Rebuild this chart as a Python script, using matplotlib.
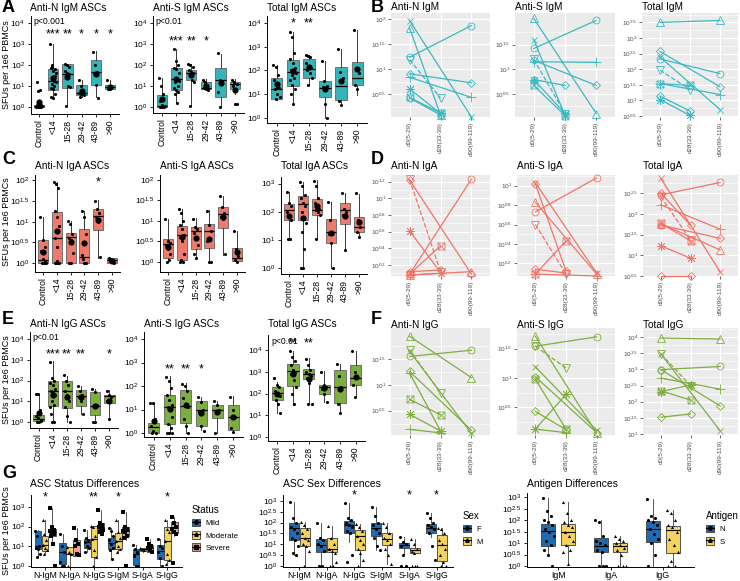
import numpy as np
import matplotlib
matplotlib.use("Agg")
import matplotlib.pyplot as plt
from matplotlib.path import Path
from matplotlib.patches import Patch
from matplotlib.lines import Line2D

plt.rcParams['font.family'] = ['Liberation Sans', 'DejaVu Sans']
plt.rcParams['mathtext.default'] = 'regular'

# ------------------------------------------------------------------ data
age_groups = ["Control", "<14", "15-28", "29-42", "43-89", ">90"]
timepoints = ["d0(5-29)", "d28(33-39)", "d90(99-119)"]

# box stats in log10 units: (whisker low, q1, median, q3, whisker high)
antiN_IgM_box = [(0.0, 0.02, 0.06, 0.12, 0.3), (0.48, 0.83, 1.24, 1.83, 3.0), (0.08, 0.92, 1.59, 2.06, 2.06),
                 (0.48, 0.56, 0.68, 1.03, 1.27), (0.48, 1.03, 1.67, 2.22, 2.67), (0.83, 0.87, 0.95, 1.06, 1.3)]
antiN_IgM_pts = [[0.0, 0.0, 0.02, 0.05, 0.08, 0.1, 0.12, 0.0, 0.05, 0.75, 0.8, 1.18, 0.3, 0.0],
                 [3.0, 2.0, 1.8, 1.85, 1.7, 1.5, 1.35, 1.25, 1.2, 1.1, 1.0, 0.9, 0.85, 0.6, 0.5, 0.45, 1.6, 1.9],
                 [2.05, 2.0, 1.9, 1.7, 1.6, 1.55, 1.4, 1.0, 0.95, 0.05],
                 [1.28, 1.0, 0.7, 0.65, 0.6, 0.55, 0.5],
                 [2.6, 2.0, 1.65, 1.6, 1.05, 0.45],
                 [1.3, 0.95, 0.9, 0.85, 0.85]]
antiN_IgM_stars = ["", "***", "**", "*", "*", "*"]

antiS_IgM_box = [(0.0, 0.0, 0.05, 0.55, 1.4), (0.19, 0.79, 1.32, 1.83, 2.78), (0.03, 1.3, 1.62, 1.78, 2.06),
                 (0.8, 0.83, 0.92, 1.19, 1.32), (0.03, 0.48, 1.27, 1.83, 2.54), (0.63, 0.87, 1.08, 1.19, 1.32)]
antiS_IgM_pts = [[1.4, 1.0, 0.6, 0.3, 0.1, 0.0, 0.0, 0.0, 0.05],
                 [2.75, 2.2, 2.0, 1.85, 1.8, 1.6, 1.4, 1.3, 1.25, 1.2, 1.0, 0.9, 0.8, 0.7, 0.6, 0.2],
                 [2.05, 2.0, 1.9, 1.75, 1.65, 1.6, 1.5, 1.3, 1.2, 0.05],
                 [1.3, 1.2, 0.95, 0.9, 0.85, 0.8],
                 [2.55, 1.3, 1.2, 0.7, 0.0],
                 [1.3, 1.2, 1.1, 1.0, 0.15, 0.15]]
antiS_IgM_stars = ["", "***", "**", "*", "", ""]

total_IgM_box = [(0.75, 0.78, 1.2, 1.7, 2.25), (0.6, 1.35, 1.93, 2.45, 3.62), (1.4, 1.68, 2.05, 2.5, 2.65),
                 (0.0, 0.9, 1.28, 1.55, 2.4), (0.55, 0.75, 1.35, 2.15, 2.9), (0.95, 1.4, 1.68, 2.35, 3.7)]
total_IgM_pts = [[2.25, 2.15, 1.8, 1.6, 1.3, 1.25, 1.2, 1.0, 0.9, 0.78],
                 [3.62, 3.4, 2.75, 2.5, 2.3, 2.1, 2.0, 1.95, 1.9, 1.8, 1.7, 1.6, 1.4, 1.2, 1.0, 0.6],
                 [2.65, 2.6, 2.55, 2.3, 2.2, 2.1, 2.0, 1.9, 1.7, 1.4],
                 [2.4, 1.55, 1.35, 1.3, 0.6, 0.0],
                 [2.9, 1.95, 1.7, 0.7, 0.55],
                 [3.7, 2.1, 1.9, 1.4, 1.2]]
total_IgM_stars = ["", "*", "**", "", "", ""]

antiN_IgA_box = [(0.0, 0.0, 0.08, 0.56, 1.12), (0.0, 0.0, 0.6, 1.24, 1.94), (0.0, 0.0, 0.62, 0.72, 1.02),
                 (0.0, 0.0, 0.14, 0.82, 1.26), (0.12, 0.8, 1.14, 1.3, 1.52), (0.0, 0.0, 0.08, 0.12, 0.12)]
antiN_IgA_pts = [[1.12, 0.55, 0.4, 0.3, 0.1, 0.05, 0.0, 0.0, 0.0],
                 [1.95, 1.9, 1.8, 1.25, 1.1, 0.9, 0.6, 0.4, 0.0, 0.0, 0.0, 0.0, 0.05],
                 [1.02, 0.95, 0.7, 0.6, 0.55, 0.25, 0.0, 0.0],
                 [1.25, 1.1, 0.7, 0.2, 0.0, 0.0, 0.1],
                 [1.5, 1.3, 1.2, 1.1, 1.0, 0.15],
                 [0.12, 0.1, 0.08, 0.05, 0.02, 0.0]]
antiN_IgA_stars = ["", "", "", "", "*", ""]

antiS_IgA_box = [(0.0, 0.08, 0.44, 0.56, 1.04), (0.0, 0.04, 0.66, 0.88, 1.3), (0.1, 0.32, 0.76, 0.84, 1.08),
                 (0.0, 0.34, 0.76, 0.92, 1.26), (0.16, 0.82, 1.16, 1.34, 1.6), (0.0, 0.02, 0.1, 0.34, 0.76)]
antiS_IgA_pts = [[1.04, 0.5, 0.45, 0.4, 0.3, 0.2, 0.0, 0.05],
                 [1.28, 1.2, 1.0, 0.9, 0.8, 0.65, 0.6, 0.5, 0.2, 0.05, 0.0, 0.0],
                 [1.05, 0.85, 0.8, 0.7, 0.6, 0.4, 0.2, 0.1],
                 [1.25, 0.9, 0.75, 0.5, 0.0, 0.0],
                 [1.6, 1.35, 1.2, 1.1, 1.05, 0.2],
                 [0.75, 0.3, 0.15, 0.05, 0.0]]
antiS_IgA_stars = ["", "", "", "", "", ""]

total_IgA_box = [(1.06, 1.71, 2.08, 2.27, 2.7), (0.03, 1.71, 2.27, 2.56, 3.04), (1.06, 1.88, 2.08, 2.44, 3.12),
                 (0.0, 0.88, 1.29, 1.73, 2.35), (0.65, 1.56, 2.06, 2.32, 2.67), (1.06, 1.29, 1.47, 1.82, 2.64)]
total_IgA_pts = [[2.7, 2.3, 2.2, 2.0, 1.9, 1.7, 1.05, 1.05],
                 [3.05, 2.9, 2.6, 2.5, 2.3, 2.2, 2.0, 1.8, 1.6, 1.3, 0.7, 0.0, 0.0],
                 [3.1, 2.9, 2.5, 2.3, 2.2, 2.1, 2.05, 2.0, 1.9, 1.05],
                 [2.35, 1.7, 1.3, 1.2, 0.9, 0.0],
                 [2.65, 2.1, 2.0, 1.9, 0.65],
                 [2.65, 1.7, 1.45, 1.3, 1.1]]
total_IgA_stars = ["", "", "", "", "", ""]

antiN_IgG_box = [(0.0, 0.05, 0.16, 0.32, 1.37), (0.0, 0.76, 1.5, 1.98, 2.92), (0.0, 0.69, 1.5, 1.97, 2.24),
                 (0.4, 0.76, 1.24, 1.53, 1.73), (0.0, 0.32, 0.76, 1.45, 1.61), (0.16, 0.92, 1.24, 1.32, 1.53)]
antiN_IgG_pts = [[1.35, 1.35, 0.6, 0.3, 0.2, 0.05, 0.0, 0.0, 0.1],
                 [2.9, 2.1, 2.0, 1.9, 1.8, 1.6, 1.5, 1.4, 1.3, 1.0, 0.8, 0.7, 0.0, 0.0, 0.4],
                 [2.25, 2.0, 1.8, 1.5, 1.3, 1.0, 0.7, 0.3, 0.0],
                 [1.72, 1.5, 1.3, 1.2, 1.0, 0.4],
                 [1.6, 1.45, 0.8, 0.0, 0.0],
                 [1.5, 1.3, 1.2, 1.0, 0.15]]
antiN_IgG_stars = ["", "***", "**", "**", "", "*"]

antiS_IgG_box = [(0.0, 0.0, 0.26, 0.43, 1.28), (0.0, 0.37, 1.11, 1.61, 2.43), (0.0, 0.43, 1.14, 1.83, 2.14),
                 (0.11, 0.3, 0.97, 1.36, 1.54), (0.0, 0.66, 1.0, 1.21, 1.36), (0.05, 0.11, 0.69, 1.19, 1.57)]
antiS_IgG_pts = [[1.28, 1.28, 0.6, 0.3, 0.1, 0.0, 0.0],
                 [2.4, 2.2, 1.9, 1.6, 1.4, 1.2, 1.1, 1.0, 0.7, 0.4, 0.2, 0.0, 0.0, 0.0],
                 [2.1, 2.0, 1.8, 1.5, 1.2, 1.1, 0.6, 0.3, 0.0],
                 [1.55, 1.3, 1.0, 0.9, 0.3, 0.1],
                 [1.35, 1.2, 1.0, 0.0],
                 [1.55, 1.0, 0.7, 0.2, 0.05]]
antiS_IgG_stars = ["", "**", "**", "*", "", ""]

total_IgG_box = [(1.11, 1.69, 2.03, 2.31, 2.54), (1.46, 2.35, 3.03, 3.35, 3.97), (1.57, 2.65, 2.89, 3.15, 3.62),
                 (1.62, 2.0, 2.28, 2.38, 3.03), (1.15, 1.57, 2.32, 3.08, 3.38), (1.85, 2.38, 2.72, 3.31, 3.95)]
total_IgG_pts = [[2.7, 2.4, 2.3, 2.1, 2.0, 1.9, 1.7, 1.5, 1.1],
                 [3.95, 3.7, 3.5, 3.3, 3.1, 3.0, 2.9, 2.6, 2.3, 2.0, 1.5],
                 [3.6, 3.3, 3.1, 3.0, 2.9, 2.8, 2.7, 2.5, 1.5, 1.5],
                 [3.0, 2.4, 2.3, 2.2, 2.0, 1.6],
                 [3.35, 2.8, 2.3, 1.5, 1.1],
                 [3.95, 3.0, 2.7, 2.4, 1.85]]
total_IgG_stars = ["", "**", "**", "", "", ""]

# longitudinal subjects: (shape, [d0, d28, d90]) in log10 units
b_antiN_IgM = [("x", [1.97, None, 0.05]), ("triangle", [1.82, 0.09, None]), ("circle", [1.24, None, 1.87]),
               ("invtri", [1.19, 0.43, None]), ("diamond", [0.91, None, 0.73]), ("plus", [0.84, None, 0.44]),
               ("asterisk", [0.61, 0.12, None]), ("sqcross", [0.44, 0.13, None]), ("circle", [0.43, 0.09, None])]
b_antiS_IgM = [("triangle", [2.03, None, 0.1]), ("x", [1.6, 0.06, None]), ("circle", [1.42, None, 1.99]),
               ("plus", [1.15, None, 1.14]), ("diamond", [1.18, None, 0.67]), ("invtri", [1.2, 0.1, None]),
               ("diamond", [0.79, 0.67, None]), ("sqcross", [0.67, 0.06, None]), ("asterisk", [0.79, 0.1, None])]
b_total_IgM = [("triangle", [3.5, None, 3.56]), ("diamond", [2.57, None, 1.44]), ("circle", [2.33, None, 1.86]),
               ("x", [2.39, None, 0.71]), ("invtri", [1.97, 1.35, None]), ("sqcross", [1.54, 1.48, None]),
               ("plus", [1.54, None, 1.19]), ("diamond", [1.14, 0.66, None]), ("asterisk", [1.03, 0.52, None])]

d_antiN_IgA = [("invtri", [1.23, 0.12, None]), ("diamond", [1.22, None, 0.09]), ("circle", [0.09, None, 1.23]),
               ("asterisk", [0.61, 0.11, None]), ("sqcross", [0.09, 0.43, None]), ("diamond", [0.12, 0.14, None]),
               ("triangle", [0.08, None, 0.12]), ("plus", [0.08, 0.1, None])]
d_antiS_IgA = [("diamond", [1.02, 0.12, None]), ("x", [1.03, None, 0.1]), ("triangle", [0.83, None, 0.09]),
               ("circle", [0.73, None, 1.08]), ("invtri", [0.6, 0.09, None]), ("sqcross", [0.09, 0.43, None]),
               ("diamond", [0.14, 0.1, None]), ("plus", [0.09, None, 0.07])]
d_total_IgA = [("x", [2.86, None, 0.6]), ("diamond", [2.5, 1.73, None]), ("circle", [2.46, None, 2.76]),
               ("invtri", [2.42, 1.37, None]), ("plus", [2.22, None, 1.63]), ("sqcross", [1.77, 1.35, None]),
               ("diamond", [1.73, None, 1.41]), ("triangle", [1.76, None, 1.13]), ("asterisk", [1.23, 0.93, None]),
               ("diamond", [0.5, 0.5, None])]

f_antiN_IgG = [("triangle", [1.94, None, 1.14]), ("invtri", [1.68, 0.84, None]), ("circle", [1.55, None, 1.67]),
               ("x", [1.65, None, 0.06]), ("diamond", [1.26, None, 0.12]), ("plus", [1.23, 0.11, None]),
               ("sqcross", [0.72, 0.42, None]), ("asterisk", [0.43, 0.11, None]), ("plus", [0.14, 0.07, None])]
f_antiS_IgG = [("triangle", [1.71, None, 0.06]), ("circle", [1.54, None, 1.7]), ("invtri", [1.54, 1.17, None]),
               ("x", [1.19, None, 0.11]), ("sqcross", [0.98, 0.13, None]), ("diamond", [1.02, None, 0.07]),
               ("diamond", [0.43, 0.12, None]), ("asterisk", [0.13, 0.72, None]), ("plus", [0.13, 0.07, None])]
f_total_IgG = [("triangle", [3.97, None, 3.94]), ("x", [3.48, None, 1.1]), ("invtri", [3.48, 2.5, None]),
               ("circle", [2.99, None, 3.09]), ("plus", [2.73, None, 2.39]), ("diamond", [2.99, None, 1.87]),
               ("sqcross", [2.34, 2.05, None]), ("asterisk", [2.31, 2.52, None]), ("diamond", [1.52, 1.62, None])]

# panel G
assay_cats = ["N-IgM", "N-IgA", "N-IgG", "S-IgM", "S-IgA", "S-IgG"]
status_labels = ["Mild", "Moderate", "Severe"]
status_mild_box = [(0.45, 0.85, 1.0, 1.8, 1.85), (0.0, 0.11, 0.72, 1.15, 1.64), (0.7, 0.93, 1.21, 1.38, 1.84),
                   (0.36, 0.85, 1.15, 1.43, 1.92), (0.0, 0.03, 0.6, 0.85, 1.05), (0.0, 0.36, 0.77, 1.05, 1.35)]
status_moderate_box = [(0.6, 0.77, 1.05, 1.54, 2.33), (0.0, 0.6, 0.6, 0.98, 0.98), (0.0, 0.44, 1.38, 2.03, 2.03),
                       (0.69, 0.85, 1.26, 1.67, 2.33), (0.69, 0.78, 0.85, 0.93, 0.93), (0.1, 0.33, 1.26, 1.97, 2.33)]
status_severe_box = [(1.05, 1.5, 1.7, 1.87, 2.95), (0.52, 0.52, 1.05, 1.34, 1.92), (1.59, 1.84, 1.97, 2.16, 2.82),
                     (1.34, 1.5, 1.8, 1.97, 2.74), (0.69, 0.69, 0.93, 1.05, 1.38), (1.5, 1.67, 1.97, 2.25, 2.46)]
status_mild_pts = [[1.8, 1.5, 1.0, 0.9, 0.85, 0.6, 0.45], [1.64, 1.0, 0.72, 0.2, 0.0, 0.0],
                   [1.84, 1.4, 1.3, 1.2, 1.0, 0.9, 0.7], [1.92, 1.8, 1.5, 1.3, 1.1, 0.9, 0.8, 0.36],
                   [1.05, 0.85, 0.7, 0.5, 0.0, 0.0], [1.35, 1.0, 0.9, 0.7, 0.4, 0.0]]
status_moderate_pts = [[2.33, 1.6, 1.3, 1.05, 0.9, 0.8, 0.6], [0.98, 0.7, 0.6, 0.0],
                       [2.03, 2.0, 1.5, 1.38, 0.8, 0.44, 0.0], [2.33, 1.7, 1.4, 1.26, 1.0, 0.85, 0.69],
                       [0.93, 0.85, 0.8], [2.33, 1.9, 1.7, 1.26, 0.6, 0.33, 0.1]]
status_severe_pts = [[2.95, 2.0, 1.85, 1.75, 1.7, 1.6, 1.5, 1.1, 0.0], [1.92, 1.3, 1.1, 1.0, 0.6, 0.55],
                     [2.82, 2.2, 2.1, 2.0, 1.95, 1.85, 1.7, 1.6], [2.74, 2.0, 1.9, 1.8, 1.7, 1.5, 1.4, 0.0],
                     [1.38, 1.1, 1.0, 0.9, 0.8, 0.7], [2.46, 2.2, 2.0, 1.9, 1.7, 1.6, 0.15]]
status_stars = ["*", "", "**", "*", "", "*"]

sex_labels = ["F", "M"]
sex_F_box = [(0.49, 1.18, 1.73, 2.0, 2.95), (0.0, 0.64, 0.99, 1.26, 2.0), (1.1, 1.52, 1.88, 2.07, 2.88),
             (0.75, 1.37, 1.73, 2.0, 2.73), (0.5, 0.84, 0.99, 1.08, 1.33), (1.35, 1.52, 1.73, 1.92, 2.44)]
sex_M_box = [(0.0, 0.93, 1.29, 1.77, 2.02), (0.0, 0.64, 0.78, 1.29, 1.82), (0.0, 0.74, 1.37, 1.67, 1.92),
             (0.1, 0.99, 1.23, 1.52, 2.0), (0.59, 0.59, 0.74, 0.84, 1.26), (0.0, 0.22, 0.99, 1.43, 1.77)]
sex_F_pts = [[2.95, 2.2, 2.0, 1.8, 1.7, 1.5, 1.3, 1.2, 0.9, 0.6, 0.49], [2.0, 1.3, 1.2, 1.0, 0.9, 0.7, 0.0, 0.0],
             [2.88, 2.2, 2.1, 2.0, 1.9, 1.8, 1.6, 1.5, 0.5, 0.2], [2.73, 2.3, 2.0, 1.9, 1.7, 1.5, 1.3, 0.9, 0.75],
             [1.33, 1.1, 1.0, 0.9, 0.5, 0.0, 0.0], [2.44, 2.2, 2.0, 1.9, 1.8, 1.7, 1.5, 0.9, 0.3]]
sex_M_pts = [[2.02, 1.9, 1.7, 1.5, 1.3, 1.2, 1.0, 0.93, 0.7, 0.0], [1.82, 1.3, 1.0, 0.8, 0.7, 0.6, 0.0, 0.0, 0.2],
             [1.92, 1.8, 1.6, 1.4, 1.2, 1.0, 0.8, 0.6, 0.3, 0.0], [2.0, 1.8, 1.5, 1.3, 1.2, 1.0, 0.8, 0.5, 0.1],
             [1.26, 1.0, 0.8, 0.7, 0.6, 0.0, 0.0, 0.0], [1.77, 1.7, 1.5, 1.2, 1.0, 0.8, 0.5, 0.2, 0.0, 0.0]]
sex_stars = ["", "", "*", "", "*", "*"]

isotype_cats = ["IgM", "IgA", "IgG"]
antigen_labels = ["N", "S"]
antigen_N_box = [(0.49, 0.89, 1.53, 1.81, 2.96), (0.0, 0.6, 0.89, 1.24, 2.0), (0.0, 1.06, 1.63, 1.96, 2.91)]
antigen_S_box = [(0.1, 0.91, 1.49, 1.81, 2.77), (0.0, 0.63, 0.86, 1.0, 1.31), (0.0, 0.57, 1.57, 1.74, 2.46)]
antigen_N_pts = [[2.96, 2.4, 2.2, 2.0, 1.9, 1.8, 1.6, 1.5, 1.3, 1.1, 0.9, 0.7, 0.5, 0.0],
                 [2.0, 1.9, 1.3, 1.1, 1.0, 0.9, 0.7, 0.6, 0.0, 0.0, 0.0],
                 [2.91, 2.2, 2.1, 2.0, 1.9, 1.8, 1.6, 1.4, 1.2, 1.0, 0.5, 0.0]]
antigen_S_pts = [[2.77, 2.3, 2.0, 1.9, 1.8, 1.7, 1.5, 1.3, 1.1, 0.9, 0.7, 0.6, 0.1],
                 [1.31, 1.2, 1.1, 1.0, 0.9, 0.8, 0.7, 0.5, 0.0, 0.0, 0.0],
                 [2.46, 2.3, 2.0, 1.8, 1.7, 1.5, 1.2, 0.9, 0.6, 0.2, 0.0, 0.0]]

# ------------------------------------------------------------------ style
TEAL, SALMON, GREEN = "#35B5BA", "#EF7A69", "#7DAF3F"
LTEAL, LSALMON, LGREEN = "#3CB8C0", "#F07467", "#7DAE3F"
BLUE, YELLOW, PINK = "#1F6BB3", "#F3D35E", "#EBA29C"

W, H = 740, 581
fig = plt.figure(figsize=(7.4, 5.81), dpi=100)


def add_ax(l, t, r, b):
    return fig.add_axes([l / W, 1 - b / H, (r - l) / W, (b - t) / H])


def log_labels(ticks):
    return [f"$10^{{{t:g}}}$" for t in ticks]


def ftext(x, y, s, **kw):
    return fig.text(x / W, 1 - y / H, s, **kw)


def classic(ax):
    for sp in ("top", "right"):
        ax.spines[sp].set_visible(False)
    for sp in ("left", "bottom"):
        ax.spines[sp].set_linewidth(0.7)
    ax.tick_params(length=2.5, width=0.6, labelsize=6.0, pad=1.5, colors="black")


def jitter(n, w):
    return ((np.arange(n) * 0.37) % 1 - 0.5) * 2 * w


def box_panel(rect, title, title_y, boxes, pts, stars, star_y, color, ylim, ticks, ptext=None):
    ax = add_ax(*rect)
    pos = np.arange(1, len(boxes) + 1)
    stats = [dict(whislo=b[0], q1=b[1], med=b[2], q3=b[3], whishi=b[4], fliers=[]) for b in boxes]
    ax.bxp(stats, positions=pos, widths=0.72, patch_artist=True, showcaps=False, showfliers=False,
           boxprops=dict(facecolor=color, edgecolor="#707070", linewidth=0.7),
           whiskerprops=dict(color="#3a3a3a", linewidth=0.7),
           medianprops=dict(color="black", linewidth=0.9))
    for x, p in zip(pos, pts):
        p = np.asarray(p)
        ax.scatter(x + jitter(len(p), 0.2), p, s=5, color="black", zorder=3, linewidths=0)
        ax.scatter([x], [p.mean()], s=20, color="black", zorder=4, linewidths=0)
    for x, s in zip(pos, stars):
        if s:
            ax.text(x, star_y, s, ha="center", va="center", fontsize=9, clip_on=False)
    ax.set_xlim(0.4, len(boxes) + 0.6)
    ax.set_ylim(*ylim)
    ax.set_yticks(ticks)
    ax.set_yticklabels(log_labels(ticks))
    ax.set_xticks(pos)
    ax.set_xticklabels(age_groups, rotation=90)
    classic(ax)
    ax.tick_params(axis="x", labelsize=6.2)
    if ptext:
        ax.text(0.03, 0.985, ptext, transform=ax.transAxes, ha="left", va="top", fontsize=6.2)
    ftext(rect[0], title_y, title, ha="left", va="center", fontsize=7.3)
    return ax


MSQX = Path([(-1, -1), (1, -1), (1, 1), (-1, 1), (-1, -1), (-1, -1), (1, 1), (-1, 1), (1, -1)],
            [1, 2, 2, 2, 2, 1, 2, 1, 2])
MARKERS = {"circle": ("o", 5), "triangle": ("^", 5.5), "plus": ("+", 6.5), "x": ("x", 5),
           "diamond": ("D", 4.5), "invtri": ("v", 5.5), "sqcross": (MSQX, 5), "asterisk": ((8, 2, 0), 6.5)}


def line_panel(rect, title, title_y, subjects, color, ylim, ticks):
    ax = add_ax(*rect)
    ax.set_facecolor("#EBEBEB")
    for sp in ax.spines.values():
        sp.set_visible(False)
    step = ticks[1] - ticks[0]
    for m in np.arange(ticks[0] - step * 1.5, ylim[1] + step, step):
        ax.axhline(m, color="white", lw=0.45, zorder=0)
    for t in ticks:
        ax.axhline(t, color="white", lw=0.9, zorder=0)
    for x in (1, 2, 3):
        ax.axvline(x, color="white", lw=0.9, zorder=0)
    for shape, vals in subjects:
        xs = [i + 1 for i, v in enumerate(vals) if v is not None]
        ys = [v for v in vals if v is not None]
        mk, ms = MARKERS[shape]
        ax.plot(xs, ys, color=color, lw=0.9, ls="--" if shape == "invtri" else "-",
                marker=mk, ms=ms, mfc="none", mec=color, mew=0.6, zorder=3, clip_on=False)
    ax.set_xlim(0.4, 3.6)
    ax.set_ylim(*ylim)
    ax.set_yticks(ticks)
    ax.set_yticklabels(log_labels(ticks))
    ax.set_xticks([1, 2, 3])
    ax.set_xticklabels(timepoints, rotation=90)
    ax.tick_params(length=2, width=0.5, color="#333333", labelsize=4.6, labelcolor="#4D4D4D", pad=1.5)
    ftext(rect[0], title_y, title, ha="left", va="center", fontsize=7.3)
    return ax


def group_panel(rect, title, cats, box_sets, pt_sets, colors, shapes, offsets, width, ylim, ticks,
                stars, star_y, leg_title, leg_labels, leg_xy):
    ax = add_ax(*rect)
    base = np.arange(1, len(cats) + 1)
    for boxes, pts, c, off, shp in zip(box_sets, pt_sets, colors, offsets, shapes):
        pos = base + off
        stats = [dict(whislo=b[0], q1=b[1], med=b[2], q3=b[3], whishi=b[4], fliers=[]) for b in boxes]
        ax.bxp(stats, positions=pos, widths=width, patch_artist=True, showcaps=False, showfliers=False,
               boxprops=dict(facecolor=c, edgecolor="#3c3c3c", linewidth=0.6),
               whiskerprops=dict(color="#3c3c3c", linewidth=0.6),
               medianprops=dict(color="black", linewidth=0.8))
        for x, p in zip(pos, pts):
            ax.scatter(x + jitter(len(p), width * 0.4), p, s=5, marker=shp, color="black",
                       zorder=3, linewidths=0)
    for x, s in zip(base, stars):
        if s:
            ax.text(x, star_y, s, ha="center", va="center", fontsize=9, clip_on=False)
    ax.set_xlim(0.4, len(cats) + 0.6)
    ax.set_ylim(*ylim)
    ax.set_yticks(ticks)
    ax.set_yticklabels(log_labels(ticks))
    ax.set_xticks(base)
    ax.set_xticklabels(cats)
    classic(ax)
    ax.tick_params(axis="x", labelsize=6.3, pad=0.8, length=2)
    ftext(rect[0], 484, title, ha="left", va="center", fontsize=7.5)
    handles = [(Patch(facecolor=c, edgecolor="#3c3c3c", linewidth=0.6),
                Line2D([], [], color="black", lw=0.8, marker=s, ms=2.5)) for c, s in zip(colors, shapes)]
    ax.legend(handles, leg_labels, title=leg_title, loc="upper left",
              bbox_to_anchor=(leg_xy[0] / W, 1 - leg_xy[1] / H), bbox_transform=fig.transFigure,
              frameon=False, fontsize=5.6, title_fontsize=7, handlelength=1.0, handleheight=1.1,
              labelspacing=0.5, borderaxespad=0, borderpad=0, handletextpad=0.7, alignment="left")
    return ax


# ------------------------------------------------------------------ panels A / C / E
box_panel((30.5, 16, 118.5, 114), "Anti-N IgM ASCs", 8, antiN_IgM_box, antiN_IgM_pts, antiN_IgM_stars, 3.43,
          TEAL, (-0.33, 4.33), [0, 1, 2, 3, 4], "p<0.001")
box_panel((153, 16, 244, 113), "Anti-S IgM ASCs", 8, antiS_IgM_box, antiS_IgM_pts, antiS_IgM_stars, 3.1,
          TEAL, (-0.29, 4.33), [0, 1, 2, 3, 4], "p<0.01")
box_panel((267, 16, 367, 123), "Total IgM ASCs", 8, total_IgM_box, total_IgM_pts, total_IgM_stars, 3.96,
          TEAL, (-0.21, 4.29), [0, 1, 2, 3, 4])

box_panel((35, 175, 120, 272), "Anti-N IgA ASCs", 166, antiN_IgA_box, antiN_IgA_pts, antiN_IgA_stars, 1.95,
          SALMON, (-0.21, 2.12), [0, 0.5, 1, 1.5, 2])
box_panel((160, 175, 245, 272), "Anti-S IgA ASCs", 166, antiS_IgA_box, antiS_IgA_pts, antiS_IgA_stars, 1.95,
          SALMON, (-0.25, 2.12), [0, 0.5, 1, 1.5, 2])
box_panel((281, 177, 367, 274), "Total IgA ASCs", 166, total_IgA_box, total_IgA_pts, total_IgA_stars, 3.0,
          SALMON, (-0.2, 3.23), [0, 1, 2, 3])

box_panel((30, 332, 118, 428), "Anti-N IgG ASCs", 324, antiN_IgG_box, antiN_IgG_pts, antiN_IgG_stars, 3.28,
          GREEN, (-0.29, 4.34), [0, 1, 2, 3, 4], "p<0.01")
box_panel((144, 332, 243, 437), "Anti-S IgG ASCs", 324, antiS_IgG_box, antiS_IgG_pts, antiS_IgG_stars, 2.72,
          GREEN, (-0.17, 4.3), [0, 1, 2, 3, 4])
box_panel((268, 335, 365, 441), "Total IgG ASCs", 324, total_IgG_box, total_IgG_pts, total_IgG_stars, 4.3,
          GREEN, (-0.18, 4.69), [0, 1, 2, 3, 4], "p<0.01")

# ------------------------------------------------------------------ panels B / D / F
line_panel((391, 13, 490, 117), "Anti-N IgM", 7, b_antiN_IgM, LTEAL, (0.05, 2.12), [0.5, 1, 1.5, 2])
line_panel((515, 13, 615, 117), "Anti-S IgM", 7, b_antiS_IgM, LTEAL, (0.03, 2.14), [0.5, 1, 1.5])
line_panel((642, 13, 738, 117), "Total IgM", 7, b_total_IgM, LTEAL, (0.47, 3.8),
           [0.5, 1, 1.5, 2, 2.5, 3, 3.5])

line_panel((391, 175, 490, 276), "Anti-N IgA", 166, d_antiN_IgA, LSALMON, (0.068, 1.28),
           [0.2, 0.4, 0.6, 0.8, 1.0, 1.2])
line_panel((517, 175, 615, 276), "Anti-S IgA", 166, d_antiS_IgA, LSALMON, (0.07, 1.11),
           [0.2, 0.4, 0.6, 0.8, 1.0])
line_panel((643, 175, 738, 276), "Total IgA", 166, d_total_IgA, LSALMON, (0.5, 2.94), [0.5, 1, 1.5, 2, 2.5])

line_panel((391, 328, 490, 435), "Anti-N IgG", 325, f_antiN_IgG, LGREEN, (0.03, 2.1), [0.5, 1, 1.5])
line_panel((517, 328, 615, 435), "Anti-S IgG", 325, f_antiS_IgG, LGREEN, (0.03, 1.85), [0.5, 1, 1.5])
line_panel((643, 328, 738, 435), "Total IgG", 325, f_total_IgG, LGREEN, (0.97, 4.28),
           [1, 1.5, 2, 2.5, 3, 3.5, 4])

# ------------------------------------------------------------------ panel G
group_panel((30.5, 495, 182, 567), "ASC Status Differences", assay_cats,
            [status_mild_box, status_moderate_box, status_severe_box],
            [status_mild_pts, status_moderate_pts, status_severe_pts],
            [BLUE, YELLOW, PINK], ["o", "^", "s"], [-0.29, 0.0, 0.29], 0.27,
            (-0.05, 3.6), [0, 1, 2, 3], status_stars, 3.5, "Status", status_labels, (192, 505))
group_panel((283, 495, 453, 567), "ASC Sex Differences", assay_cats,
            [sex_F_box, sex_M_box], [sex_F_pts, sex_M_pts],
            [BLUE, YELLOW], ["o", "^"], [-0.2, 0.2], 0.36,
            (-0.045, 3.27), [0, 0.5, 1, 1.5, 2, 2.5, 3], sex_stars, 3.27, "Sex", sex_labels, (463, 511))
group_panel((527, 493, 694, 567), "Antigen Differences", isotype_cats,
            [antigen_N_box, antigen_S_box], [antigen_N_pts, antigen_S_pts],
            [BLUE, YELLOW], ["o", "^"], [-0.19, 0.19], 0.27,
            (-0.04, 3.18), [0, 0.5, 1, 1.5, 2, 2.5, 3], ["", "", ""], 3.2, "Antigen", antigen_labels, (706, 511))

# ------------------------------------------------------------------ y labels and panel letters
for yc in (65, 222, 380, 531):
    ftext(6.5, yc, "SFUs per 1e6 PBMCs", rotation=90, ha="center", va="center", fontsize=6.5)
for letter, x, y in (("A", 2, 8), ("B", 371, 8), ("C", 2, 160), ("D", 371, 160),
                     ("E", 2, 320), ("F", 371, 320), ("G", 2, 473)):
    ftext(x, y, letter, fontsize=13, fontweight="bold", ha="left", va="center")

fig.savefig("out.png", dpi=100)
